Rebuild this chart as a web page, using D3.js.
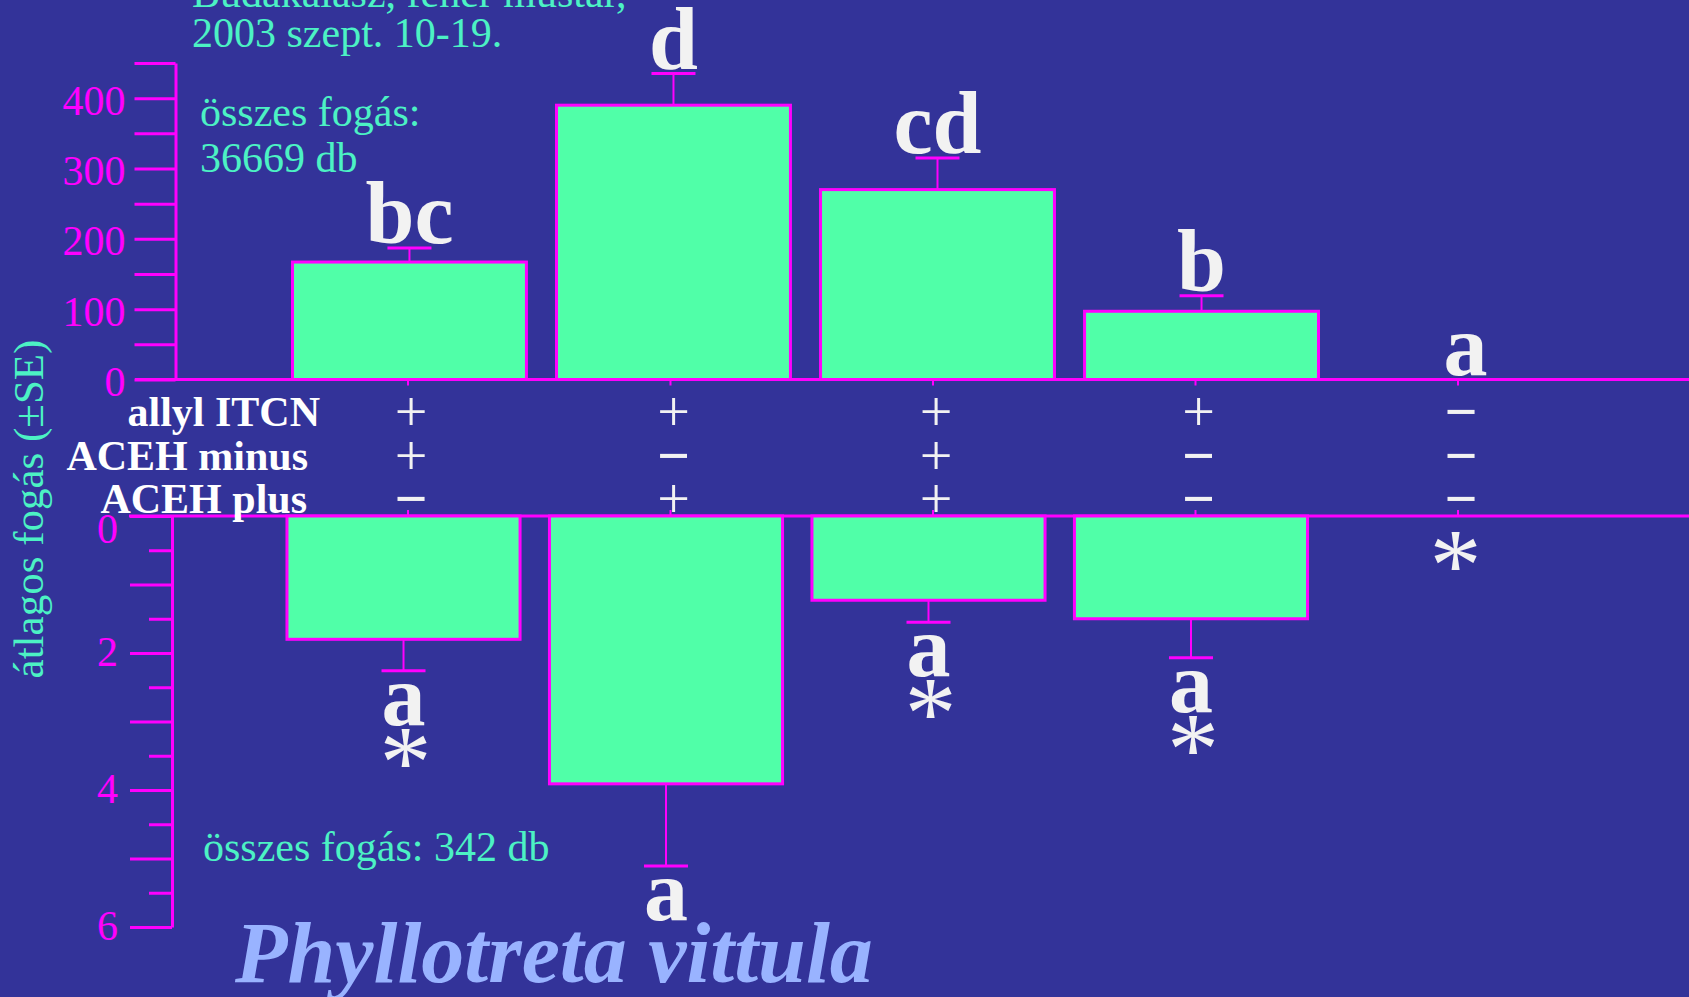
<!DOCTYPE html>
<html>
<head>
<meta charset="utf-8">
<script src="https://cdn.jsdelivr.net/npm/d3@7"></script>
<style>
  html, body { margin: 0; padding: 0; background: #333399; }
  svg { display: block; }
  text { font-family: "Liberation Serif", "Times New Roman", serif; }
</style>
</head>
<body>
<svg id="chart" width="1689" height="997"></svg>
<script>
// Treatment combinations (one column per trap type)
const treatments = ["t1", "t2", "t3", "t4", "t5"];
const rowLabels = ["allyl ITCN", "ACEH minus", "ACEH plus"];
const allylITCN = ["+", "+", "+", "+", "−"];
const acehMinus = ["+", "−", "+", "−", "−"];
const acehPlus  = ["−", "+", "+", "−", "−"];

// Upper panel: mean catch per trap (± SE), total 36669
const meanUpper = [167, 390, 270, 97, 0];
const seUpper   = [20, 45, 45, 22, 0];
const lettersUpper = ["bc", "d", "cd", "b", "a"];

// Lower panel: mean catch per trap (± SE), total 342
const meanLower = [1.80, 3.91, 1.23, 1.50, 0];
const seLower   = [0.46, 1.20, 0.32, 0.57, 0];
const lettersLower = ["a", "a", "a", "a", ""];
const starLower = [true, false, true, true, true];

// Axis ticks
const upperTicks = [0, 50, 100, 150, 200, 250, 300, 350, 400, 450];
const upperTickLabels = [0, 100, 200, 300, 400];
const lowerMajorTicks = [0, 1, 2, 3, 4, 5, 6];
const lowerMinorTicks = [0.5, 1.5, 2.5, 3.5, 4.5, 5.5];
const lowerTickLabels = [0, 2, 4, 6];

const W = 1689, H = 997;
const MAGENTA = "#ff00ff";
const BAR = "#50ffa8";
const AQUA = "#4cf2c4";
const WHITE = "#f2f2f2";

const svg = d3.select("#chart");
svg.append("rect").attr("width", W).attr("height", H).attr("fill", "#333399");

// ---------- scales ----------
const yUp = d3.scaleLinear().domain([0, 450]).range([379.5, 63]);
const yLo = d3.scaleLinear().domain([0, 6]).range([516, 927]);
const xUp = d3.scaleBand().domain(treatments).range([175, 1700]).paddingInner(0.114).paddingOuter(0.445);
const xLo = d3.scaleBand().domain(treatments).range([172, 1685]).paddingInner(0.112).paddingOuter(0.438);
const xCol = d3.scalePoint().domain(treatments).range([408, 1458]);
const yRow = d3.scalePoint().domain(rowLabels).range([411, 498]);

const upAxisX = 175.5, loAxisX = 172;

// ---------- upper axis ----------
const upAxis = svg.append("g")
  .attr("transform", `translate(${upAxisX},0)`)
  .call(d3.axisLeft(yUp).tickValues(upperTicks).tickSize(41).tickSizeOuter(0).tickPadding(9)
    .tickFormat(d => upperTickLabels.includes(d) ? d : ""));
upAxis.selectAll("path,line").attr("stroke", MAGENTA).attr("stroke-width", 3);
upAxis.selectAll("text").attr("fill", MAGENTA).attr("font-size", 42)
  .attr("font-family", "Liberation Serif, serif").attr("dy", "0.38em");

// ---------- lower axis ----------
const loMajor = svg.append("g")
  .attr("transform", `translate(${loAxisX},0)`)
  .call(d3.axisLeft(yLo).tickValues(lowerMajorTicks).tickSize(42).tickSizeOuter(0).tickPadding(12)
    .tickFormat(d => lowerTickLabels.includes(d) ? d : ""));
const loMinor = svg.append("g")
  .attr("transform", `translate(${loAxisX},0)`)
  .call(d3.axisLeft(yLo).tickValues(lowerMinorTicks).tickSize(23).tickFormat(""));
loMinor.select(".domain").remove();
[loMajor, loMinor].forEach(g => g.selectAll("path,line").attr("stroke", MAGENTA).attr("stroke-width", 3));
loMajor.selectAll("text").attr("fill", MAGENTA).attr("font-size", 42)
  .attr("font-family", "Liberation Serif, serif")
  .attr("dy", d => d === 0 ? "0.62em" : "0.3em");

// ---------- zero lines with column ticks ----------
svg.append("line").attr("x1", 135).attr("x2", W).attr("y1", yUp(0)).attr("y2", yUp(0))
  .attr("stroke", MAGENTA).attr("stroke-width", 3);
svg.append("line").attr("x1", 129).attr("x2", W).attr("y1", yLo(0)).attr("y2", yLo(0))
  .attr("stroke", MAGENTA).attr("stroke-width", 3);
svg.append("g").selectAll("line").data(treatments).join("line")
  .attr("x1", d => xCol(d)).attr("x2", d => xCol(d))
  .attr("y1", yUp(0)).attr("y2", yUp(0) + 6)
  .attr("stroke", MAGENTA).attr("stroke-width", 2);
svg.append("g").selectAll("line").data(treatments).join("line")
  .attr("x1", d => xCol(d)).attr("x2", d => xCol(d))
  .attr("y1", yLo(0)).attr("y2", yLo(0) - 6)
  .attr("stroke", MAGENTA).attr("stroke-width", 2);

// ---------- upper bars ----------
const upData = treatments.map((t, i) => ({ t, v: meanUpper[i], se: seUpper[i], lab: lettersUpper[i] }));
svg.append("g").selectAll("rect").data(upData.filter(d => d.v > 0)).join("rect")
  .attr("x", d => xUp(d.t)).attr("width", xUp.bandwidth())
  .attr("y", d => yUp(d.v)).attr("height", d => yUp(0) - yUp(d.v))
  .attr("fill", BAR).attr("stroke", MAGENTA).attr("stroke-width", 3);
const upErr = svg.append("g").selectAll("g").data(upData.filter(d => d.se > 0)).join("g");
upErr.append("line")
  .attr("x1", d => xUp(d.t) + xUp.bandwidth() / 2).attr("x2", d => xUp(d.t) + xUp.bandwidth() / 2)
  .attr("y1", d => yUp(d.v)).attr("y2", d => yUp(d.v + d.se))
  .attr("stroke", MAGENTA).attr("stroke-width", 2);
upErr.append("line")
  .attr("x1", d => xUp(d.t) + xUp.bandwidth() / 2 - 22).attr("x2", d => xUp(d.t) + xUp.bandwidth() / 2 + 22)
  .attr("y1", d => yUp(d.v + d.se)).attr("y2", d => yUp(d.v + d.se))
  .attr("stroke", MAGENTA).attr("stroke-width", 3);
svg.append("g").selectAll("text").data(upData).join("text")
  .attr("x", d => xUp(d.t) + xUp.bandwidth() / 2)
  .attr("y", d => yUp(d.v + d.se) - 5)
  .attr("text-anchor", "middle").attr("font-size", 88).attr("font-weight", "bold")
  .attr("fill", WHITE).text(d => d.lab);

// ---------- lower bars (hanging down from zero) ----------
const loData = treatments.map((t, i) => ({ t, v: meanLower[i], se: seLower[i], lab: lettersLower[i], star: starLower[i] }));
svg.append("g").selectAll("rect").data(loData.filter(d => d.v > 0)).join("rect")
  .attr("x", d => xLo(d.t)).attr("width", xLo.bandwidth())
  .attr("y", yLo(0)).attr("height", d => yLo(d.v) - yLo(0))
  .attr("fill", BAR).attr("stroke", MAGENTA).attr("stroke-width", 3);
const loErr = svg.append("g").selectAll("g").data(loData.filter(d => d.se > 0)).join("g");
loErr.append("line")
  .attr("x1", d => xLo(d.t) + xLo.bandwidth() / 2).attr("x2", d => xLo(d.t) + xLo.bandwidth() / 2)
  .attr("y1", d => yLo(d.v)).attr("y2", d => yLo(d.v + d.se))
  .attr("stroke", MAGENTA).attr("stroke-width", 2);
loErr.append("line")
  .attr("x1", d => xLo(d.t) + xLo.bandwidth() / 2 - 22).attr("x2", d => xLo(d.t) + xLo.bandwidth() / 2 + 22)
  .attr("y1", d => yLo(d.v + d.se)).attr("y2", d => yLo(d.v + d.se))
  .attr("stroke", MAGENTA).attr("stroke-width", 3);
svg.append("g").selectAll("text").data(loData.filter(d => d.lab)).join("text")
  .attr("x", d => xLo(d.t) + xLo.bandwidth() / 2)
  .attr("y", d => yLo(d.v + d.se) + 54)
  .attr("text-anchor", "middle").attr("font-size", 88).attr("font-weight", "bold")
  .attr("fill", WHITE).text(d => d.lab);
// significance asterisks
svg.append("g").selectAll("text").data(loData.filter(d => d.star)).join("text")
  .attr("x", d => xLo(d.t) + xLo.bandwidth() / 2 + 2)
  .attr("y", d => d.lab ? yLo(d.v + d.se) + 54 + 72 : yLo(0) + 84)
  .attr("text-anchor", "middle").attr("font-size", 104)
  .attr("fill", WHITE).text("*");

// ---------- treatment table ----------
const rowSigns = [allylITCN, acehMinus, acehPlus];
const rowLabelEnd = [320, 308, 307];
rowLabels.forEach((lab, r) => {
  svg.append("text")
    .attr("x", rowLabelEnd[r]).attr("y", yRow(lab) + 15)
    .attr("text-anchor", "end").attr("font-size", 42).attr("font-weight", "bold")
    .attr("fill", "#ffffff").text(lab);
  svg.append("g").selectAll("text").data(treatments).join("text")
    .attr("x", d => xCol(d) + 3).attr("y", yRow(lab) + 20)
    .attr("text-anchor", "middle").attr("font-size", 58)
    .attr("font-weight", (d, i) => rowSigns[r][i] === "+" ? "normal" : "bold")
    .attr("fill", WHITE).text((d, i) => rowSigns[r][i]);
});

// ---------- annotations ----------
svg.append("text").attr("x", 192).attr("y", 7).attr("font-size", 42).attr("fill", AQUA)
  .text("Budakalász, fehér mustár,");
svg.append("text").attr("x", 192).attr("y", 47).attr("font-size", 42).attr("fill", AQUA)
  .text("2003 szept. 10-19.");
svg.append("text").attr("x", 200).attr("y", 126).attr("font-size", 42).attr("fill", AQUA)
  .text("összes fogás:");
svg.append("text").attr("x", 200).attr("y", 172).attr("font-size", 42).attr("fill", AQUA)
  .text("36669 db");
svg.append("text").attr("x", 203).attr("y", 861).attr("font-size", 42).attr("fill", AQUA)
  .text("összes fogás: 342 db");

// y-axis title
svg.append("text")
  .attr("transform", "translate(43,509) rotate(-90)")
  .attr("text-anchor", "middle").attr("font-size", 43).attr("fill", AQUA)
  .text("átlagos fogás (±SE)");

// species name
svg.append("text").attr("x", 235).attr("y", 982)
  .attr("font-size", 86).attr("font-weight", "bold").attr("font-style", "italic")
  .attr("fill", "#99b3ff").text("Phyllotreta vittula");
</script>
</body>
</html>
